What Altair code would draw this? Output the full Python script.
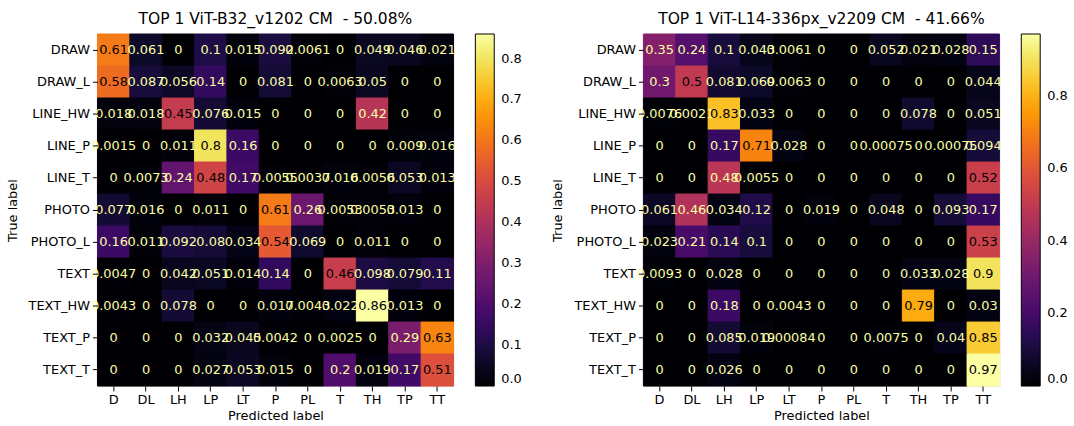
import altair as alt
import pandas as pd

true_labels = ["DRAW", "DRAW_L", "LINE_HW", "LINE_P", "LINE_T", "PHOTO", "PHOTO_L",
               "TEXT", "TEXT_HW", "TEXT_P", "TEXT_T"]
pred_labels = ["D", "DL", "LH", "LP", "LT", "P", "PL", "T", "TH", "TP", "TT"]

title_left = "TOP 1 ViT-B32_v1202 CM \u00a0- 50.08%"
title_right = "TOP 1 ViT-L14-336px_v2209 CM \u00a0- 41.66%"

cm_left = [
    [0.61, 0.061, 0, 0.1, 0.015, 0.092, 0.0061, 0, 0.049, 0.046, 0.021],
    [0.58, 0.087, 0.056, 0.14, 0, 0.081, 0, 0.0063, 0.05, 0, 0],
    [0.018, 0.018, 0.45, 0.076, 0.015, 0, 0, 0, 0.42, 0, 0],
    [0.0015, 0, 0.011, 0.8, 0.16, 0, 0, 0, 0, 0.009, 0.016],
    [0, 0.0073, 0.24, 0.48, 0.17, 0.0055, 0.0037, 0.016, 0.0056, 0.053, 0.013],
    [0.077, 0.016, 0, 0.011, 0, 0.61, 0.26, 0.0053, 0.0053, 0.013, 0],
    [0.16, 0.011, 0.092, 0.08, 0.034, 0.54, 0.069, 0, 0.011, 0, 0],
    [0.0047, 0, 0.042, 0.051, 0.014, 0.14, 0, 0.46, 0.098, 0.079, 0.11],
    [0.0043, 0, 0.078, 0, 0, 0.017, 0.0043, 0.022, 0.86, 0.013, 0],
    [0, 0, 0, 0.032, 0.045, 0.0042, 0, 0.0025, 0, 0.29, 0.63],
    [0, 0, 0, 0.027, 0.053, 0.015, 0, 0.2, 0.019, 0.17, 0.51],
]

cm_right = [
    [0.35, 0.24, 0.1, 0.043, 0.0061, 0, 0, 0.052, 0.021, 0.028, 0.15],
    [0.3, 0.5, 0.081, 0.069, 0.0063, 0, 0, 0, 0, 0, 0.044],
    [0.0076, 0.0021, 0.83, 0.033, 0, 0, 0, 0, 0.078, 0, 0.051],
    [0, 0, 0.17, 0.71, 0.028, 0, 0, 0.00075, 0, 0.00075, 0.094],
    [0, 0, 0.48, 0.0055, 0, 0, 0, 0, 0, 0, 0.52],
    [0.061, 0.46, 0.034, 0.12, 0, 0.019, 0, 0.048, 0, 0.093, 0.17],
    [0.023, 0.21, 0.14, 0.1, 0, 0, 0, 0, 0, 0, 0.53],
    [0.0093, 0, 0.028, 0, 0, 0, 0, 0, 0.033, 0.028, 0.9],
    [0, 0, 0.18, 0, 0.0043, 0, 0, 0, 0.79, 0, 0.03],
    [0, 0, 0.085, 0.019, 0.00084, 0, 0, 0.0075, 0, 0.04, 0.85],
    [0, 0, 0.026, 0, 0, 0, 0, 0, 0, 0, 0.97],
]

ticks_left = [0.0, 0.1, 0.2, 0.3, 0.4, 0.5, 0.6, 0.7, 0.8]
ticks_right = [0.0, 0.2, 0.4, 0.6, 0.8]

FONT = "DejaVu Sans"
W, H = 358, 354
FS = 13


def to_df(cm):
    rows = []
    for i, t in enumerate(true_labels):
        for j, p in enumerate(pred_labels):
            rows.append({"true": t, "pred": p, "v": cm[i][j]})
    return pd.DataFrame(rows)


def panel(cm, title, ticks):
    df = to_df(cm)
    vmax = max(max(r) for r in cm)
    vmin = min(min(r) for r in cm)
    thresh = (vmax + vmin) / 2
    cscale = alt.Scale(scheme="inferno", domain=[vmin, vmax], nice=False, clamp=True)
    base = alt.Chart(df).encode(
        x=alt.X("pred:N", sort=pred_labels, title="Predicted label",
                scale=alt.Scale(paddingInner=0, paddingOuter=0),
                axis=alt.Axis(labelAngle=0, tickSize=5, labelPadding=3, domain=False, grid=False,
                              tickColor="black", labelColor="black", labelFontSize=FS,
                              titleFontSize=FS, titleFontWeight="normal", titlePadding=3,
                              labelFont=FONT, titleFont=FONT, titleColor="black")),
        y=alt.Y("true:N", sort=true_labels, title="True label",
                scale=alt.Scale(paddingInner=0, paddingOuter=0),
                axis=alt.Axis(tickSize=5, labelPadding=3, domain=False, grid=False,
                              tickColor="black", labelColor="black", labelFontSize=FS,
                              titleFontSize=FS, titleFontWeight="normal", titlePadding=9,
                              labelFont=FONT, titleFont=FONT, titleColor="black")),
    )
    rect = base.mark_rect(strokeWidth=1).encode(
        color=alt.Color("v:Q", scale=cscale,
                        legend=alt.Legend(title=None, orient="none", legendX=W + 22, legendY=0,
                                          direction="vertical", gradientLength=H,
                                          gradientThickness=19, gradientStrokeColor="black",
                                          gradientStrokeWidth=1, values=ticks, format=".1f",
                                          labelFontSize=FS, labelFont=FONT, labelColor="black",
                                          labelOffset=7, padding=0)),
        stroke=alt.Stroke("v:Q", scale=cscale, legend=None),
    )
    text = base.mark_text(fontSize=FS, font=FONT).encode(
        text=alt.Text("v:Q", format=".2~g"),
        color=alt.condition(alt.datum.v > thresh, alt.value("#000004"), alt.value("#fcffa4")),
    )
    return alt.layer(rect, text).properties(
        width=W, height=H,
        title=alt.TitleParams(title, fontSize=15.6, font=FONT, fontWeight="normal",
                              color="black", frame="group", anchor="middle", offset=6),
    ).resolve_scale(color="independent")


left = panel(cm_left, title_left, ticks_left)
right = panel(cm_right, title_right, ticks_right)

chart = alt.hconcat(left, right, spacing=28).resolve_scale(color="independent", stroke="independent").resolve_legend(
    color="independent"
).properties(
    padding={"left": 5, "top": 10, "right": 5, "bottom": 5}
).configure_view(stroke="black", strokeWidth=1, fill="black").configure_axis(
    grid=False, gridOpacity=0
).configure(background="white")

chart.save("out.html", embed_options={"renderer": "svg", "actions": False})
